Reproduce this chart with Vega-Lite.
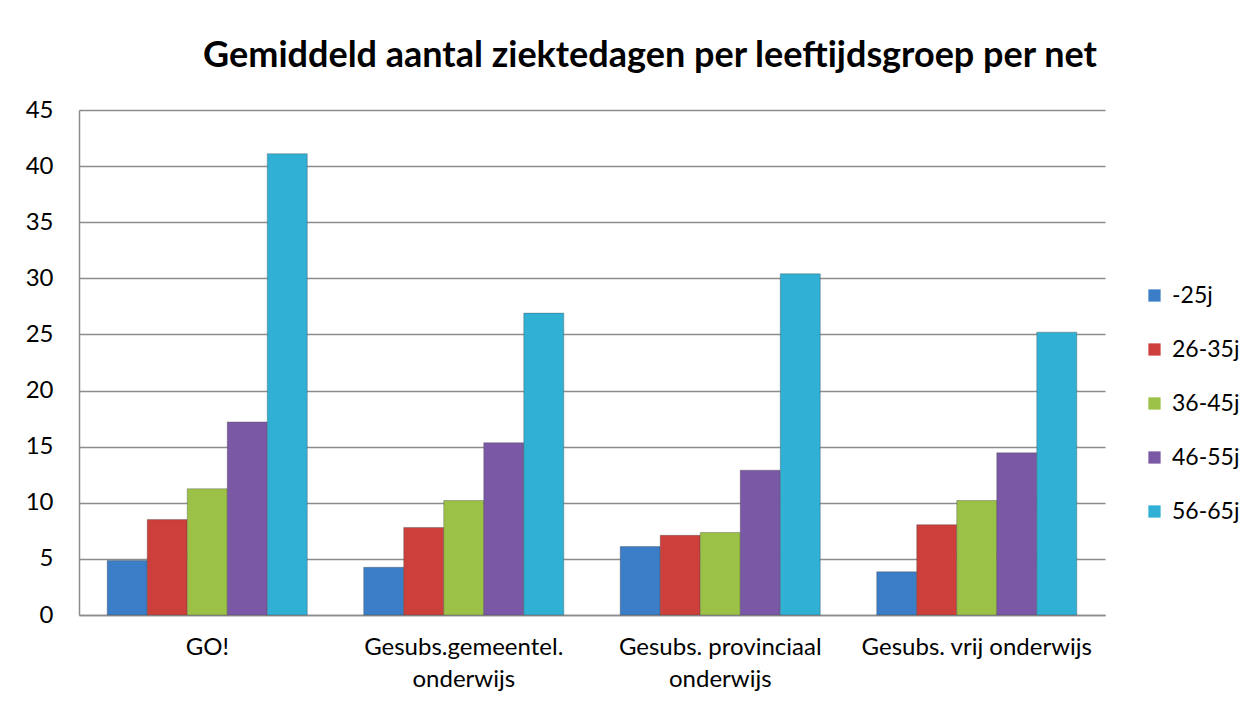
{
  "$schema": "https://vega.github.io/schema/vega-lite/v6.json",
  "autosize": {"type": "none"},
  "padding": {"left": 79, "top": 110, "right": 145, "bottom": 91},
  "width": 1026,
  "height": 505,
  "background": "white",
  "title": {
    "text": "Gemiddeld aantal ziektedagen per leeftijdsgroep per net",
    "font": "Lato",
    "fontSize": 36,
    "fontWeight": "bold",
    "color": "black",
    "anchor": "middle",
    "dx": 58,
    "offset": 23
  },
  "data": {
    "values": [
      {"net": "GO!", "groep": "-25j", "dagen": 4.85},
      {"net": "GO!", "groep": "26-35j", "dagen": 8.5},
      {"net": "GO!", "groep": "36-45j", "dagen": 11.25},
      {"net": "GO!", "groep": "46-55j", "dagen": 17.2},
      {"net": "GO!", "groep": "56-65j", "dagen": 41.1},
      {"net": "Gesubs.gemeentel. onderwijs", "groep": "-25j", "dagen": 4.25},
      {"net": "Gesubs.gemeentel. onderwijs", "groep": "26-35j", "dagen": 7.8},
      {"net": "Gesubs.gemeentel. onderwijs", "groep": "36-45j", "dagen": 10.2},
      {"net": "Gesubs.gemeentel. onderwijs", "groep": "46-55j", "dagen": 15.35},
      {"net": "Gesubs.gemeentel. onderwijs", "groep": "56-65j", "dagen": 26.9},
      {"net": "Gesubs. provinciaal onderwijs", "groep": "-25j", "dagen": 6.1},
      {"net": "Gesubs. provinciaal onderwijs", "groep": "26-35j", "dagen": 7.1},
      {"net": "Gesubs. provinciaal onderwijs", "groep": "36-45j", "dagen": 7.35},
      {"net": "Gesubs. provinciaal onderwijs", "groep": "46-55j", "dagen": 12.9},
      {"net": "Gesubs. provinciaal onderwijs", "groep": "56-65j", "dagen": 30.4},
      {"net": "Gesubs. vrij onderwijs", "groep": "-25j", "dagen": 3.85},
      {"net": "Gesubs. vrij onderwijs", "groep": "26-35j", "dagen": 8.05},
      {"net": "Gesubs. vrij onderwijs", "groep": "36-45j", "dagen": 10.2},
      {"net": "Gesubs. vrij onderwijs", "groep": "46-55j", "dagen": 14.45},
      {"net": "Gesubs. vrij onderwijs", "groep": "56-65j", "dagen": 25.2}
    ]
  },
  "mark": {"type": "bar", "strokeWidth": 1, "stroke": "#444444", "strokeOpacity": 0.35},
  "encoding": {
    "x": {
      "field": "net",
      "type": "nominal",
      "sort": null,
      "title": null,
      "scale": {"paddingInner": 0.22, "paddingOuter": 0.11},
      "axis": {
        "labelAngle": 0,
        "labelFont": "Lato",
        "labelFontSize": 24,
        "labelColor": "black",
        "labelPadding": 20,
        "labelLineHeight": 32,
        "labelLimit": 0,
        "ticks": false,
        "domainColor": "#8c8c8c",
        "domainWidth": 1.5,
        "labelExpr": "datum.label == 'Gesubs.gemeentel. onderwijs' ? ['Gesubs.gemeentel.', 'onderwijs'] : datum.label == 'Gesubs. provinciaal onderwijs' ? ['Gesubs. provinciaal', 'onderwijs'] : datum.label"
      }
    },
    "xOffset": {"field": "groep", "type": "nominal", "sort": null},
    "y": {
      "field": "dagen",
      "type": "quantitative",
      "title": null,
      "scale": {"domain": [0, 45], "nice": false},
      "axis": {
        "values": [0, 5, 10, 15, 20, 25, 30, 35, 40, 45],
        "labelFont": "Lato",
        "labelFontSize": 24,
        "labelColor": "black",
        "labelPadding": 26,
        "ticks": false,
        "domainColor": "#8c8c8c",
        "domainWidth": 1.5,
        "gridColor": "#8c8c8c",
        "gridWidth": 1.5
      }
    },
    "color": {
      "field": "groep",
      "type": "nominal",
      "sort": null,
      "title": null,
      "scale": {
        "domain": ["-25j", "26-35j", "36-45j", "46-55j", "56-65j"],
        "range": ["#3b7dc6", "#cc3f3b", "#9bc146", "#7b58a6", "#2fb0d4"]
      },
      "legend": {
        "orient": "none",
        "legendX": 1064,
        "legendY": 174,
        "symbolType": "square",
        "symbolSize": 150,
        "symbolStrokeWidth": 0,
        "labelFont": "Lato",
        "labelFontSize": 23,
        "labelColor": "black",
        "labelOffset": 6,
        "labelLimit": 0,
        "rowPadding": 30
      }
    }
  },
  "config": {
    "view": {"stroke": null},
    "axis": {"gridOpacity": 1}
  }
}
